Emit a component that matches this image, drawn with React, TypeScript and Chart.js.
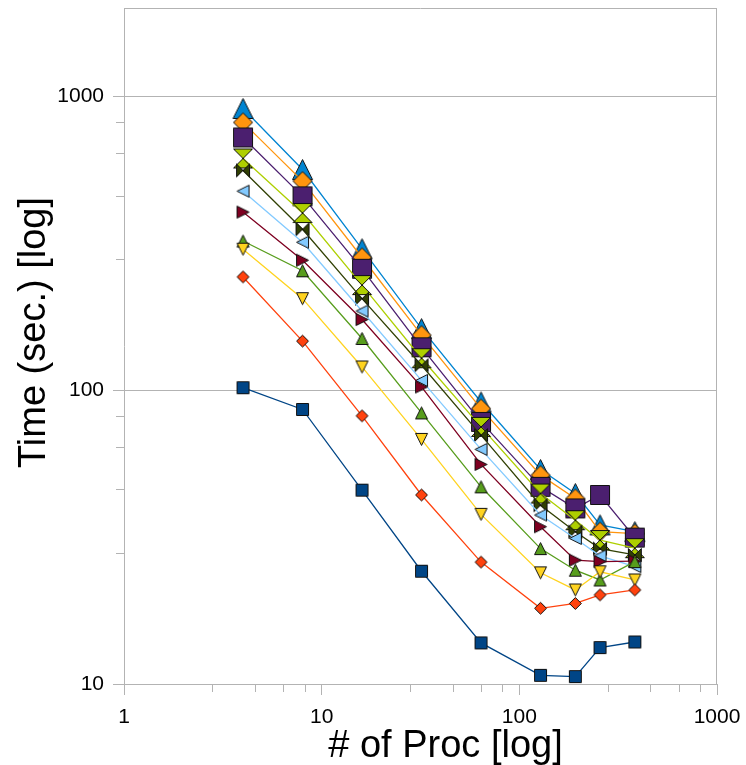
import React, { useEffect, useRef } from 'react';
import { Chart, registerables } from 'chart.js';

Chart.register(...registerables);

// ---- data ----
const procs = [4, 8, 16, 32, 64, 128, 192, 256, 384];

const s1 = [102, 86, 45.7, 24.2, 13.8, 10.7, 10.6, 13.3, 13.9];
const s2 = [243, 147, 81.8, 44, 26, 18.1, 18.8, 20.1, 20.9];
const s3 = [302, 205, 120, 68, 37.8, 23.9, 20.9, 24.1, 22.6];
const s4 = [322, 255, 150, 83.7, 46.9, 28.9, 24.4, 22.6, 26.1];
const s5 = [404, 277, 174, 102.6, 55.9, 34.3, 26.4, 26.1, 26.2];
const s6 = [476, 319, 186, 108, 62.9, 37.6, 31.3, 27.3, 25.1];
const s7 = [560, 353, 205, 121.6, 70.3, 40.6, 33, 28.9, 27.5];
const s8 = [615, 401, 228, 128.5, 75, 44.5, 36.1, 30.9, 29.0];
const s9 = [725, 457, 259, 140, 78, 46.9, 39.6, 44, 31.5];
const s10 = [816, 515, 283, 154, 86.6, 51.4, 42.8, 33, 32.5];
const s11 = [910, 564, 303, 162, 91.2, 53.7, 44.5, 34.8, 33];

const seriesValues = [s1, s2, s3, s4, s5, s6, s7, s8, s9, s10, s11];
const seriesColors = ['#004586', '#ff420e', '#ffd320', '#579d1c', '#7e0021', '#83caff', '#314004', '#aecf00', '#4b1f6f', '#ff950e', '#0084d1'];
const seriesShapes = ['square', 'diamond', 'down', 'up', 'right', 'left', 'bowtie', 'hourglass', 'square', 'diamond', 'up'];
const seriesMarkerSizes = [12, 12, 12, 12, 12, 12, 13, 19, 19, 19, 20];

const xTicks = [1, 10, 100, 1000];
const yTicks = [10, 100, 1000];
const minorSteps = [2.8, 4.6, 6.4, 8.2];

const xTitle = '# of Proc [log]';
const yTitle = 'Time (sec.) [log]';

const GRID = '#b3b3b3';
const FONT = "'Liberation Sans', Arial, sans-serif";

function makeMarker(shape: string, size: number, fill: string): HTMLCanvasElement {
  const pad = 1.5;
  const W = Math.ceil(size + pad * 2);
  const c = document.createElement('canvas');
  c.width = W;
  c.height = W;
  const ctx = c.getContext('2d')!;
  const a = pad;
  const b = pad + size;
  const m = pad + size / 2;
  ctx.beginPath();
  switch (shape) {
    case 'square':
      ctx.rect(a, a, size, size);
      break;
    case 'diamond':
      ctx.moveTo(m, a); ctx.lineTo(b, m); ctx.lineTo(m, b); ctx.lineTo(a, m); ctx.closePath();
      break;
    case 'up':
      ctx.moveTo(m, a); ctx.lineTo(b, b); ctx.lineTo(a, b); ctx.closePath();
      break;
    case 'down':
      ctx.moveTo(a, a); ctx.lineTo(b, a); ctx.lineTo(m, b); ctx.closePath();
      break;
    case 'right':
      ctx.moveTo(a, a); ctx.lineTo(b, m); ctx.lineTo(a, b); ctx.closePath();
      break;
    case 'left':
      ctx.moveTo(b, a); ctx.lineTo(a, m); ctx.lineTo(b, b); ctx.closePath();
      break;
    case 'hourglass':
      ctx.moveTo(a, a); ctx.lineTo(b, a); ctx.lineTo(a, b); ctx.lineTo(b, b); ctx.closePath();
      break;
    case 'bowtie':
      ctx.moveTo(a, a); ctx.lineTo(a, b); ctx.lineTo(b, a); ctx.lineTo(b, b); ctx.closePath();
      break;
  }
  ctx.fillStyle = fill;
  ctx.fill();
  ctx.lineWidth = 1;
  ctx.lineJoin = 'miter';
  ctx.strokeStyle = '#111';
  ctx.stroke();
  return c;
}

const axisDecor = {
  id: 'axisDecor',
  beforeDatasetsDraw(chart: any) {
    const { ctx, chartArea: ca, scales } = chart;
    const xs = scales.x;
    const ys = scales.y;
    ctx.save();
    ctx.strokeStyle = GRID;
    ctx.lineWidth = 1;
    ctx.beginPath();
    // top and right border of the plot area
    ctx.moveTo(ca.left, Math.round(ca.top) + 0.5);
    ctx.lineTo(ca.right, Math.round(ca.top) + 0.5);
    ctx.moveTo(Math.round(ca.right) - 0.5, ca.top);
    ctx.lineTo(Math.round(ca.right) - 0.5, ca.bottom);
    // minor ticks x
    for (let i = 0; i < xTicks.length - 1; i++) {
      for (const s of minorSteps) {
        const px = Math.round(xs.getPixelForValue(xTicks[i] * s)) + 0.5;
        ctx.moveTo(px, ca.bottom);
        ctx.lineTo(px, ca.bottom + 8);
      }
    }
    // minor ticks y
    for (let i = 0; i < yTicks.length; i++) {
      for (const s of minorSteps) {
        const v = yTicks[i] * s;
        if (v > ys.max) continue;
        const py = Math.round(ys.getPixelForValue(v)) + 0.5;
        ctx.moveTo(ca.left - 8, py);
        ctx.lineTo(ca.left, py);
      }
    }
    ctx.stroke();
    ctx.restore();
  },
  afterDraw(chart: any) {
    const { ctx, chartArea: ca } = chart;
    ctx.save();
    ctx.fillStyle = '#000';
    ctx.font = `38px ${FONT}`;
    ctx.textAlign = 'center';
    ctx.textBaseline = 'alphabetic';
    ctx.fillText(xTitle, (ca.left + ca.right) / 2 + 25, chart.height - 8);
    ctx.translate(45, (ca.top + ca.bottom) / 2 - 13.5);
    ctx.rotate(-Math.PI / 2);
    ctx.fillText(yTitle, 0, 0);
    ctx.restore();
  },
};

export default function App() {
  const ref = useRef<HTMLCanvasElement | null>(null);

  useEffect(() => {
    document.body.style.margin = '0';
    document.body.style.overflow = 'hidden';
    const canvas = ref.current;
    if (!canvas) return;

    const datasets = seriesValues.map((vals, i) => ({
      label: 'S' + (i + 1),
      data: procs.map((p, j) => ({ x: p, y: vals[j] })),
      borderColor: seriesColors[i],
      backgroundColor: seriesColors[i],
      borderWidth: 1.3,
      pointStyle: makeMarker(seriesShapes[i], seriesMarkerSizes[i], seriesColors[i]),
      pointRadius: 6,
      pointHoverRadius: 6,
      tension: 0,
      fill: false,
    }));

    const chart = new Chart(canvas, {
      type: 'line',
      data: { datasets },
      plugins: [axisDecor],
      options: {
        animation: false,
        responsive: true,
        maintainAspectRatio: false,
        layout: { padding: { top: 8, right: 29, left: 0, bottom: 0 } },
        plugins: {
          legend: { display: false },
          tooltip: { enabled: false },
        },
        events: [],
        scales: {
          x: {
            type: 'logarithmic',
            min: 1,
            max: 1000,
            afterBuildTicks: (s: any) => {
              s.ticks = xTicks.map((v) => ({ value: v }));
            },
            afterFit: (s: any) => {
              s.height = 81;
              s.paddingLeft = 0;
              s.paddingRight = 0;
              s.paddingTop = 0;
              s.paddingBottom = 0;
            },
            ticks: {
              callback: (v: any) => String(v),
              font: { family: FONT, size: 21 },
              color: '#000',
              padding: 10,
              maxRotation: 0,
              autoSkip: false,
            },
            grid: { drawOnChartArea: false, color: GRID, tickLength: 11, lineWidth: 1 },
            border: { display: true, color: GRID },
            title: { display: false },
          },
          y: {
            type: 'logarithmic',
            min: 10,
            max: 2000,
            afterBuildTicks: (s: any) => {
              s.ticks = yTicks.map((v) => ({ value: v }));
            },
            afterFit: (s: any) => {
              s.width = 124;
              s.paddingLeft = 0;
              s.paddingRight = 0;
              s.paddingTop = 0;
              s.paddingBottom = 0;
            },
            ticks: {
              callback: (v: any) => String(v),
              font: { family: FONT, size: 21 },
              color: '#000',
              padding: 9,
              autoSkip: false,
            },
            grid: { color: GRID, tickLength: 11, lineWidth: 1 },
            border: { display: true, color: GRID },
            title: { display: false },
          },
        },
      } as any,
    });

    return () => chart.destroy();
  }, []);

  return (
    <div style={{ position: 'relative', width: 746, height: 765 }}>
      <canvas ref={ref} />
    </div>
  );
}
